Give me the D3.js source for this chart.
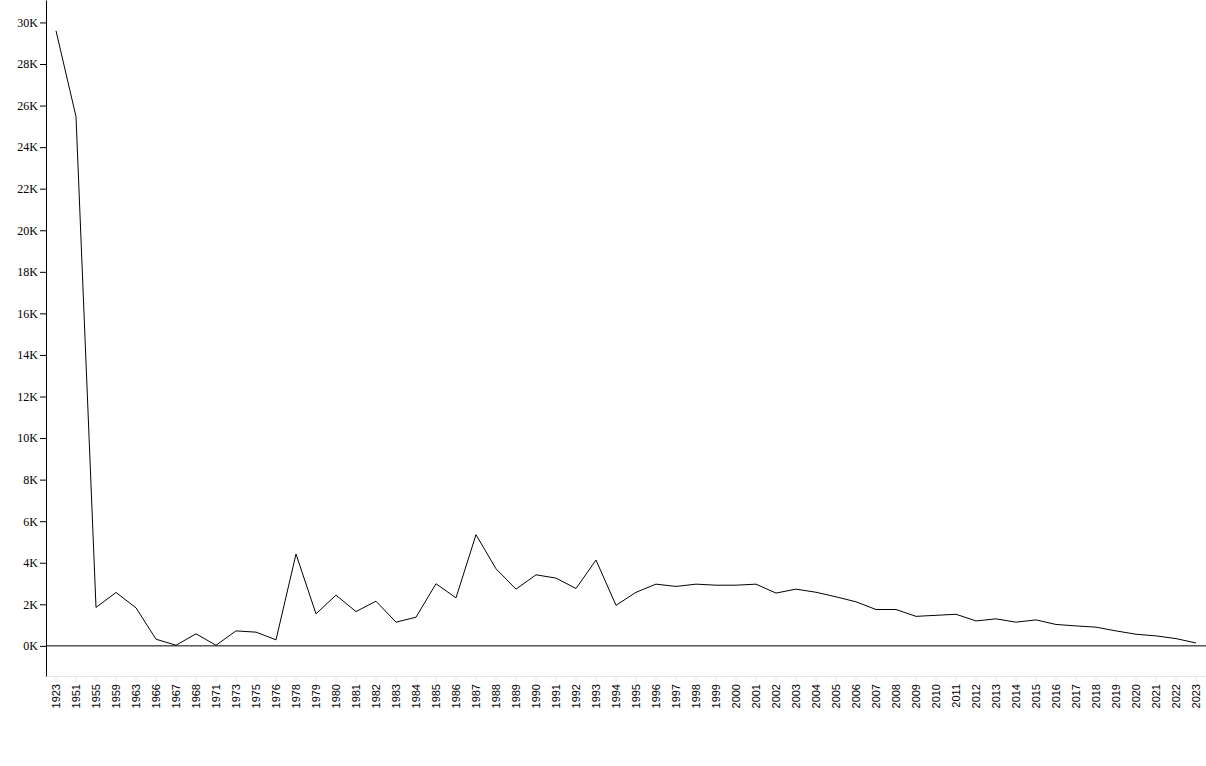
<!DOCTYPE html>
<html>
<head>
<meta charset="utf-8">
<script src="https://cdn.jsdelivr.net/npm/d3@7"></script>
<style>
body { margin: 0; background: #fff; }
svg { display: block; }
</style>
</head>
<body>
<svg id="chart" width="1206" height="766"></svg>
<script>
const years = ["1923","1951","1955","1959","1963","1966","1967","1968","1971","1973","1975","1976","1978","1979","1980","1981","1982","1983","1984","1985","1986","1987","1988","1989","1990","1991","1992","1993","1994","1995","1996","1997","1998","1999","2000","2001","2002","2003","2004","2005","2006","2007","2008","2009","2010","2011","2012","2013","2014","2015","2016","2017","2018","2019","2020","2021","2022","2023"];
const values = [29600,25470,1850,2570,1830,320,30,580,30,720,660,290,4420,1540,2440,1650,2150,1140,1380,2990,2310,5350,3710,2730,3420,3260,2760,4130,1950,2580,2970,2860,2970,2920,2920,2970,2540,2730,2580,2360,2120,1750,1750,1420,1470,1520,1200,1300,1140,1250,1030,960,900,720,560,480,350,140];
const yTicks = [0,2000,4000,6000,8000,10000,12000,14000,16000,18000,20000,22000,24000,26000,28000,30000];

const svg = d3.select("#chart");
const margin = {left: 46, right: 0, top: 0, bottom: 90};
const W = 1206, H = 766;

const x = d3.scaleBand().domain(years).range([margin.left, W - margin.right]).padding(0);
const maxV = d3.max(values), minV = d3.min(values);
const y = d3.scaleLinear().domain([minV - 0.05 * maxV, maxV * 1.05]).range([H - margin.bottom, margin.top]);

// x axis (light gray)
const gx = svg.append("g")
  .attr("transform", `translate(0,${H - margin.bottom})`)
  .call(d3.axisBottom(x).tickSize(6).tickSizeOuter(0));
gx.select(".domain").attr("stroke", "#e6e6e6");
gx.selectAll(".tick line").attr("stroke", "#e6e6e6");
gx.selectAll(".tick text")
  .attr("font-family", "'Liberation Sans', Arial, sans-serif")
  .attr("font-size", 11)
  .attr("fill", "#000")
  .attr("text-anchor", "end")
  .attr("transform", "rotate(-90)")
  .attr("x", -8)
  .attr("y", 0)
  .attr("dy", "0.35em");

// y axis
const gy = svg.append("g")
  .attr("transform", `translate(${margin.left},0)`)
  .call(d3.axisLeft(y).tickValues(yTicks).tickFormat(d => (d / 1000) + "K").tickSize(6).tickSizeOuter(0).tickPadding(2));
gy.select(".domain").attr("stroke", "#000");
gy.selectAll(".tick line").attr("stroke", "#000");
gy.selectAll(".tick text")
  .attr("font-family", "'Liberation Serif', 'Times New Roman', serif")
  .attr("font-size", 12)
  .attr("fill", "#000");

// zero line
svg.append("line")
  .attr("x1", margin.left).attr("x2", W - margin.right)
  .attr("y1", y(0)).attr("y2", y(0))
  .attr("stroke", "#000").attr("stroke-width", 1);

// data line
const line = d3.line()
  .x((d, i) => x(years[i]) + x.bandwidth() / 2)
  .y(d => y(d));
svg.append("path")
  .datum(values)
  .attr("fill", "none")
  .attr("stroke", "#000")
  .attr("stroke-width", 1)
  .attr("d", line);
</script>
</body>
</html>
